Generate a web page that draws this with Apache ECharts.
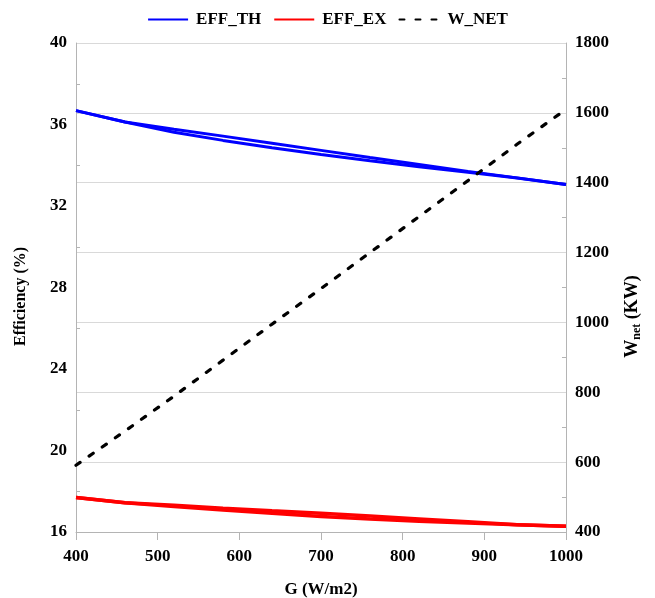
<!DOCTYPE html>
<html>
<head>
<meta charset="utf-8">
<script src="https://cdn.jsdelivr.net/npm/echarts@6/dist/echarts.min.js"></script>
<style>html,body{margin:0;padding:0;background:#fff}#c{width:655px;height:598px}</style>
</head>
<body>
<div id="c"></div>
<script>
var gValues = [400, 460, 520, 580, 640, 700, 760, 820, 880, 940, 1000];
var effThA = [36.68, 36.12, 35.77, 35.43, 35.08, 34.73, 34.38, 34.04, 33.70, 33.38, 33.06];
var effThB = [36.68, 36.12, 35.62, 35.22, 34.86, 34.53, 34.22, 33.93, 33.66, 33.37, 33.06];
var effExA = [17.69, 17.44, 17.31, 17.17, 17.04, 16.92, 16.78, 16.64, 16.50, 16.36, 16.28];
var effExB = [17.69, 17.44, 17.25, 17.08, 16.92, 16.76, 16.64, 16.53, 16.44, 16.36, 16.28];
var wNet = [591, 689, 789, 892, 995, 1097, 1200, 1303, 1406, 1510, 1610];
var leftTicks = {min: 16, max: 40, interval: 4};
var rightTicks = {min: 400, max: 1800, interval: 200};
var xTicks = {min: 400, max: 1000, interval: 100};

function pairs(ys) { return gValues.map(function (g, i) { return [g, ys[i]]; }); }
function plain(v) { return String(v); }

var font = 'Liberation Serif';
var axisGray = '#b4b4b4';
var labelStyle = {color: '#000', fontFamily: font, fontWeight: 'bold', fontSize: 17, formatter: plain};
var nameStyle = {color: '#000', fontFamily: font, fontWeight: 'bold', fontSize: 16};

var chart = echarts.init(document.getElementById('c'), null, {renderer: 'canvas'});
chart.setOption({
  animation: false,
  backgroundColor: '#fff',
  grid: {left: 76, right: 89, top: 43, bottom: 66, containLabel: false, outerBoundsMode: 'none'},
  legend: {
    top: 6, left: 'center', itemWidth: 40, itemHeight: 3, itemGap: 12,
    itemStyle: {opacity: 0},
    data: ['EFF_TH', 'EFF_EX', 'W_NET'],
    textStyle: {color: '#000', fontFamily: font, fontWeight: 'bold', fontSize: 17, padding: [0, 0, 0, 3]}
  },
  xAxis: {
    type: 'value', min: xTicks.min, max: xTicks.max, interval: xTicks.interval,
    name: 'G (W/m2)', nameLocation: 'middle', nameGap: 49, nameTextStyle: Object.assign({}, nameStyle, {fontSize: 17}),
    axisLine: {show: true, lineStyle: {color: axisGray, width: 1}},
    axisTick: {show: true, length: 8, lineStyle: {color: axisGray}},
    axisLabel: Object.assign({margin: 16}, labelStyle),
    splitLine: {show: false}
  },
  yAxis: [{
    type: 'value', position: 'left', min: leftTicks.min, max: leftTicks.max, interval: leftTicks.interval,
    name: 'Efficiency (%)', nameLocation: 'middle', nameGap: 47, nameRotate: 90,
    nameTextStyle: Object.assign({padding: [0, 18, 0, 0]}, nameStyle),
    axisLine: {show: true, lineStyle: {color: axisGray, width: 1}},
    axisTick: {show: false, inside: true},
    minorTick: {show: true, splitNumber: 2, length: 4, lineStyle: {color: axisGray}},
    axisLabel: Object.assign({margin: 9, padding: [0, 0, 5, 0]}, labelStyle),
    splitLine: {show: false}
  }, {
    type: 'value', position: 'right', min: rightTicks.min, max: rightTicks.max, interval: rightTicks.interval,
    name: 'W{s|net} (KW)', nameLocation: 'middle', nameGap: 56, nameRotate: 90,
    nameTextStyle: Object.assign({}, nameStyle, {fontSize: 18, padding: [0, 58, 0, 0], rich: {s: {fontFamily: font, fontWeight: 'bold', fontSize: 12, padding: [9, 0, 0, 0]}}}),
    axisLine: {show: true, lineStyle: {color: axisGray, width: 1}},
    axisTick: {show: false, inside: true},
    minorTick: {show: true, splitNumber: 2, length: 4, lineStyle: {color: axisGray}},
    axisLabel: Object.assign({margin: 9, padding: [0, 0, 4, 0]}, labelStyle),
    splitLine: {show: true, lineStyle: {color: '#d9d9d9', width: 1}}
  }],
  series: [
    {name: 'EFF_TH', type: 'line', yAxisIndex: 0, symbol: 'none', data: pairs(effThA),
     lineStyle: {color: '#0000ff', width: 3}, itemStyle: {color: '#0000ff'}},
    {name: 'EFF_TH', type: 'line', yAxisIndex: 0, symbol: 'none', data: pairs(effThB),
     lineStyle: {color: '#0000ff', width: 3}, itemStyle: {color: '#0000ff'}},
    {name: 'EFF_EX', type: 'line', yAxisIndex: 0, symbol: 'none', data: pairs(effExA),
     lineStyle: {color: '#ff0000', width: 3.5}, itemStyle: {color: '#ff0000'}},
    {name: 'EFF_EX', type: 'line', yAxisIndex: 0, symbol: 'none', data: pairs(effExB),
     lineStyle: {color: '#ff0000', width: 3.5}, itemStyle: {color: '#ff0000'}},
    {name: 'W_NET', type: 'line', yAxisIndex: 1, symbol: 'none', data: pairs(wNet), z: 5,
     lineStyle: {color: '#000', width: 3.2, type: [5, 11], cap: 'round'}, itemStyle: {color: '#000'}}
  ]
});
</script>
</body>
</html>
